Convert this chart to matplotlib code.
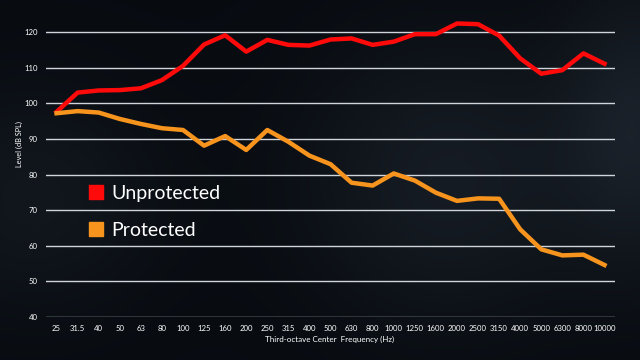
import numpy as np
import matplotlib.pyplot as plt
from matplotlib.lines import Line2D

# Datos
freqs = ['25', '31.5', '40', '50', '63', '80', '100', '125', '160', '200', '250', '315',
         '400', '500', '630', '800', '1000', '1250', '1600', '2000', '2500', '3150',
         '4000', '5000', '6300', '8000', '10000']
unprotected = [97.6, 103.0, 103.6, 103.7, 104.2, 106.5, 110.5, 116.5, 119.1, 114.5,
               117.8, 116.4, 116.2, 117.9, 118.2, 116.4, 117.3, 119.4, 119.4, 122.4,
               122.2, 119.0, 112.6, 108.3, 109.3, 114.0, 111.1]
protected = [97.2, 97.8, 97.4, 95.6, 94.2, 93.0, 92.5, 88.1, 90.8, 86.9,
             92.5, 89.2, 85.3, 82.9, 77.7, 76.9, 80.3, 78.3, 74.9, 72.6,
             73.3, 73.2, 64.6, 59.0, 57.3, 57.5, 54.6]
yticks = [40, 50, 60, 70, 80, 90, 100, 110, 120]

plt.rcParams['font.family'] = ['Lato', 'DejaVu Sans']

fig = plt.figure(figsize=(6.4, 3.6), dpi=100)
fig.patch.set_facecolor('#0a1018')

# Fondo oscuro con un leve degradado
bg = fig.add_axes([0, 0, 1, 1])
gx, gy = np.meshgrid(np.linspace(0, 1, 320), np.linspace(0, 1, 180))
shade = 0.5 * np.exp(-((gx - 0.7) ** 2 / 0.05 + (gy - 0.5) ** 2 / 0.15)) \
    + 0.35 * np.exp(-((gx - 0.05) ** 2 / 0.04 + (gy - 0.55) ** 2 / 0.1)) \
    + 0.6 * np.exp(-((gx - 1.0) ** 2 / 0.015 + (gy - 0.35) ** 2 / 0.15))
base = np.array([0.03, 0.045, 0.065])
light = np.array([0.14, 0.17, 0.21])
img = base + np.clip(shade, 0, 1)[..., None] * (light - base)
bg.imshow(img, aspect='auto', extent=[0, 1, 0, 1])
bg.axis('off')

ax = fig.add_axes([0.0719, 0.1194, 0.8891, 0.8411])
ax.patch.set_alpha(0)
x = np.arange(len(freqs))

for yv in yticks:
    ax.axhline(yv, color='#d0d5db', lw=1.0, zorder=1)

ax.plot(x, unprotected, color='#ff0a0a', lw=3.2, solid_joinstyle='round', zorder=3)
ax.plot(x, protected, color='#f7941d', lw=3.2, solid_joinstyle='round', zorder=3)

ax.set_xlim(-0.5, len(freqs) - 0.5)
ax.set_ylim(40, 125)
ax.set_xticks(x)
ax.set_xticklabels(freqs)
ax.set_yticks(yticks)
ax.tick_params(colors='white', labelsize=5.6, length=0, pad=6)
for s in ax.spines.values():
    s.set_visible(False)

fig.text(0.031, 0.6, 'Level (dB SPL)', rotation=90, color='white', fontsize=5.3,
         ha='center', va='center')
fig.text(0.515, 0.058, 'Third-octave Center  Frequency (Hz)', color='white', fontsize=5.8,
         ha='center', va='center')

handles = [Line2D([], [], ls='', marker='s', markersize=9.5, color='#ff0a0a'),
           Line2D([], [], ls='', marker='s', markersize=9.5, color='#f7941d')]
leg = ax.legend(handles, ['Unprotected', 'Protected'], loc='upper left',
                bbox_to_anchor=(0.04, 0.495), frameon=False, fontsize=14,
                labelcolor='white', handletextpad=0.3, labelspacing=1.05,
                handlelength=1.0)

fig.savefig('out.png', dpi=100, facecolor=fig.get_facecolor())
